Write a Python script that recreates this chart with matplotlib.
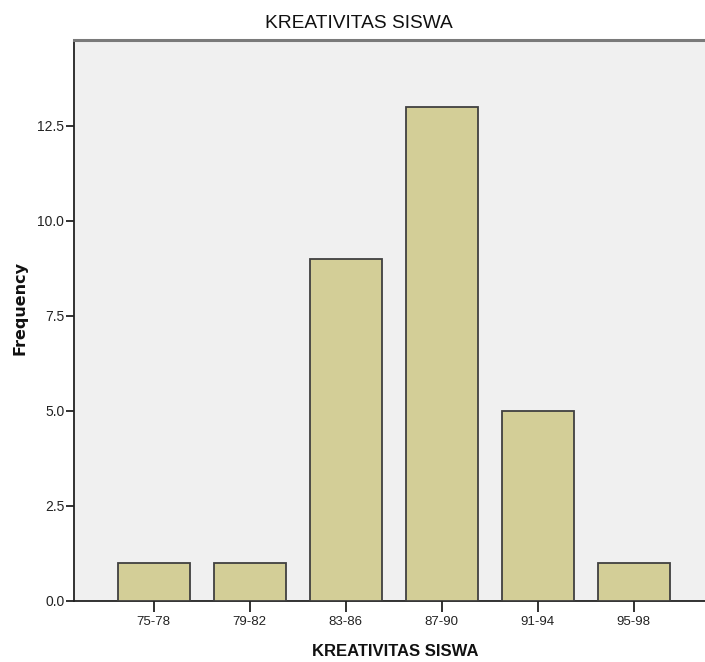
import matplotlib
matplotlib.use("Agg")
import matplotlib.pyplot as plt
from matplotlib import font_manager as fm

categories = ["75-78", "79-82", "83-86", "87-90", "91-94", "95-98"]
frequency = [1, 1, 9, 13, 5, 1]
yticks = [0.0, 2.5, 5.0, 7.5, 10.0, 12.5]

names = {f.name for f in fm.fontManager.ttflist}
narrow = "Liberation Sans Narrow" if "Liberation Sans Narrow" in names else "Liberation Sans"

W, H = 705, 662
fig = plt.figure(figsize=(W / 100, H / 100), dpi=100)
fig.patch.set_facecolor("white")
ax = fig.add_axes([74 / W, (H - 601) / H, 1 - 74 / W + 0.001, (601 - 40) / H])
ax.set_facecolor("#F0F0F0")

x = list(range(len(categories)))
ax.bar(x, frequency, width=0.75, color="#D3CE97", edgecolor="#404040", linewidth=1.3, zorder=3)

ax.set_xlim(-0.83, 5.75)
ax.set_ylim(0, 14.76)
ax.set_xticks(x)
ax.set_xticklabels(categories, fontfamily=narrow, fontsize=9.5)
ax.set_yticks(yticks)
ax.set_yticklabels([f"{v:.1f}" for v in yticks], fontfamily=narrow, fontsize=10)
ax.tick_params(axis="y", length=6, width=1.3, color="#222222", pad=1, labelcolor="#222222")
ax.tick_params(axis="x", length=8, width=1.3, color="#222222", pad=3, labelcolor="#222222")

for s in ["left", "bottom"]:
    ax.spines[s].set_color("#222222")
    ax.spines[s].set_linewidth(1.3)
ax.spines["top"].set_color("#7A7A7A")
ax.spines["top"].set_linewidth(2.2)
ax.spines["right"].set_visible(False)

fig.text(359 / W, 1 - 24 / H, "KREATIVITAS SISWA", ha="center", va="center",
         fontfamily=narrow, fontsize=13.75, color="#111111")
fig.text(395 / W, 1 - 651 / H, "KREATIVITAS SISWA", ha="center", va="center",
         fontfamily="Liberation Sans", fontweight="bold", fontsize=12, color="#111111")
fig.text(20 / W, 1 - 308 / H, "Frequency", ha="center", va="center", rotation=90,
         fontfamily="DejaVu Sans", fontweight="bold", fontsize=11.5, color="#111111")

fig.savefig("out.png", dpi=100)
